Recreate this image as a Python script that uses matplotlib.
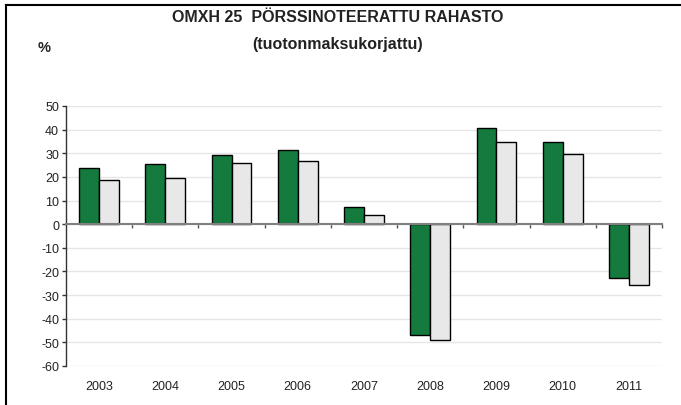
import matplotlib.pyplot as plt
import numpy as np

plt.rcParams['font.family'] = ['Liberation Sans', 'DejaVu Sans']

years = ['2003', '2004', '2005', '2006', '2007', '2008', '2009', '2010', '2011']
fund = [23.6, 25.4, 29.3, 31.4, 7.3, -46.8, 40.9, 34.7, -22.6]
index = [18.9, 19.7, 25.9, 26.8, 3.9, -49.2, 34.7, 29.9, -25.8]
yticks = list(range(-60, 51, 10))

green = '#157a3e'
grey = '#e8e8e8'

fig = plt.figure(figsize=(6.81, 4.06), dpi=100)
ax = fig.add_axes([66 / 681, 1 - 367 / 406, (662 - 66) / 681, (367 - 107) / 406])

x = np.arange(len(years))
w = 0.3
ax.bar(x - w / 2, fund, w, color=green, edgecolor='black', linewidth=1.0, zorder=3)
ax.bar(x + w / 2, index, w, color=grey, edgecolor='black', linewidth=1.0, zorder=3)

ax.set_xlim(-0.5, len(years) - 0.5)
ax.set_ylim(-60, 50)
ax.set_yticks(yticks)
ax.set_yticklabels([str(v) for v in yticks])
ax.yaxis.grid(True, color='#e6e6e6', linewidth=1.0, zorder=0)
ax.set_axisbelow(True)
ax.tick_params(axis='y', length=3, width=1, color='#333333', labelsize=9,
               labelcolor='#222222', pad=2)

for s in ['top', 'right']:
    ax.spines[s].set_visible(False)
ax.spines['left'].set_color('#333333')
ax.spines['left'].set_linewidth(1.0)
ax.spines['bottom'].set_position(('data', 0))
ax.spines['bottom'].set_color('#808080')
ax.spines['bottom'].set_linewidth(1.5)
ax.spines['bottom'].set_zorder(4)
ax.set_xticks(x + 0.5)
ax.set_xticklabels([])
ax.tick_params(axis='x', length=3, width=1, color='#555555', direction='out')

# year labels sit below the plot, not at the zero line
sec = ax.secondary_xaxis('bottom')
sec.set_xticks(x)
sec.set_xticklabels(years)
sec.tick_params(length=0, labelsize=9, labelcolor='#222222', pad=10)
sec.spines['bottom'].set_visible(False)

fig.text(338 / 681, 1 - 18 / 406, 'OMXH 25  PÖRSSINOTEERATTU RAHASTO', ha='center', va='center',
         fontsize=11.5, fontweight='bold', color='#222222')
fig.text(338 / 681, 1 - 45 / 406, '(tuotonmaksukorjattu)', ha='center', va='center',
         fontsize=11.5, fontweight='bold', color='#222222')
fig.text(44 / 681, 1 - 48 / 406, '%', ha='center', va='center',
         fontsize=10.5, fontweight='bold', color='#222222')

# outer frame (left and top visible)
fig.add_artist(plt.Line2D([6 / 681, 6 / 681], [0, 1 - 6 / 406], color='black', linewidth=1.5))
fig.add_artist(plt.Line2D([6 / 681, 1], [1 - 6 / 406, 1 - 6 / 406], color='black', linewidth=1.5))

fig.savefig('out.png', dpi=100)
